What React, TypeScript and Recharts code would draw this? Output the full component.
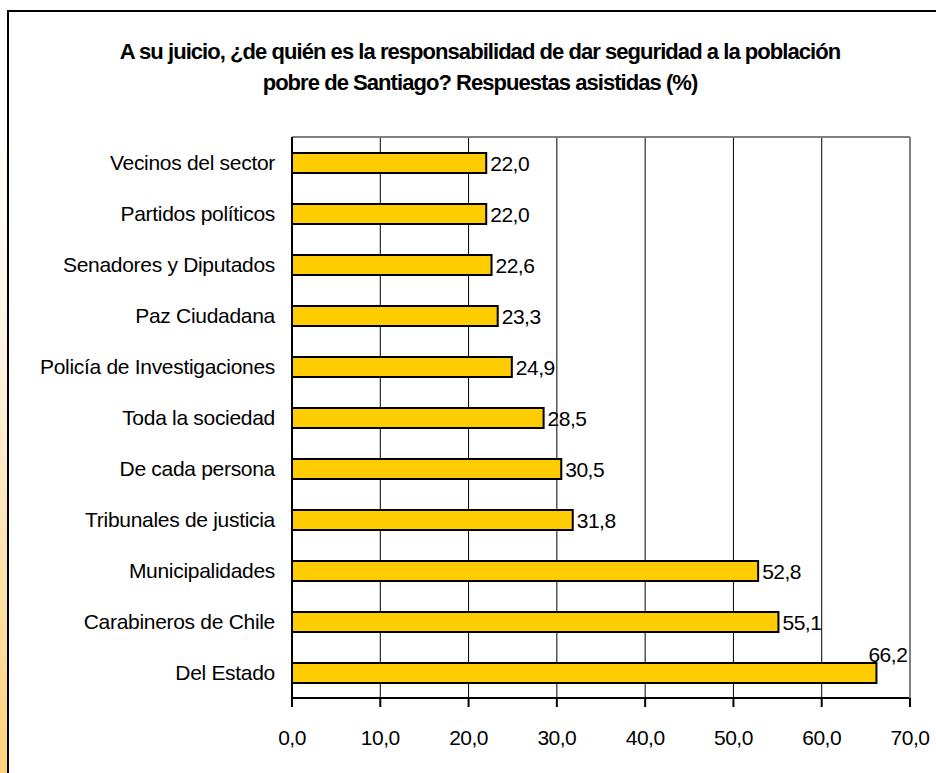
import { BarChart, Bar, XAxis, YAxis, CartesianGrid, LabelList } from 'recharts';

const categories = [
  'Vecinos del sector',
  'Partidos políticos',
  'Senadores  y Diputados',
  'Paz Ciudadana',
  'Policía de Investigaciones',
  'Toda la sociedad',
  'De cada persona',
  'Tribunales de justicia',
  'Municipalidades',
  'Carabineros de Chile',
  'Del Estado',
];
const values = [22.0, 22.0, 22.6, 23.3, 24.9, 28.5, 30.5, 31.8, 52.8, 55.1, 66.2];
const xTicks = [0, 10, 20, 30, 40, 50, 60, 70];
const edgeTicks = [0, 1, 2, 3, 4, 5, 6, 7, 8, 9, 10, 11];

const data = categories.map((name, i) => ({ name, value: values[i] }));

const W = 936;
const H = 773;
const MARGIN = { top: 136, right: 25, bottom: 0, left: 0 };
const PLOT_RIGHT = W - MARGIN.right - 1;
const FONT = '"Liberation Sans", Arial, sans-serif';

const fmt = (v: number) => v.toFixed(1).replace('.', ',');

const ValueLabel = (props: any) => {
  const { x, y, width, height, value } = props;
  const end = Number(x) + Number(width);
  const txt = fmt(Number(value));
  // no room on the right -> put it above the bar end
  if (end + 46 > PLOT_RIGHT) {
    return (
      <text x={end - 8} y={Number(y) - 1} fontSize={21} fontFamily={FONT} fill="#000" letterSpacing={-0.5}>
        {txt}
      </text>
    );
  }
  return (
    <text
      x={end + 4}
      y={Number(y) + Number(height) / 2 + 8}
      fontSize={21}
      fontFamily={FONT}
      fill="#000"
      letterSpacing={-0.5}
    >
      {txt}
    </text>
  );
};

export default function App() {
  return (
    <div
      style={{
        position: 'fixed',
        left: 0,
        top: 0,
        width: W,
        height: H,
        overflow: 'hidden',
        background: '#fff',
      }}
    >
      <div
        style={{
          position: 'absolute',
          left: 0,
          top: 0,
          width: 7,
          height: H,
          background: 'linear-gradient(to bottom, #ffffff 15%, #fff4e4 45%, #ffd27a 100%)',
        }}
      />
      <div
        style={{
          position: 'absolute',
          left: 7,
          top: 10,
          width: W + 20,
          height: H + 20,
          border: '2px solid #000',
          background: '#fff',
        }}
      />
      <div
        style={{
          position: 'absolute',
          left: 0,
          top: 36,
          width: 960,
          textAlign: 'center',
          fontFamily: FONT,
          fontWeight: 'bold',
          fontSize: 22,
          lineHeight: '31px',
          letterSpacing: -0.95,
          color: '#000',
        }}
      >
        A su juicio, ¿de quién es la responsabilidad de dar seguridad a la población
        <br />
        pobre de Santiago? Respuestas asistidas (%)
      </div>
      <div style={{ position: 'absolute', left: 0, top: 0 }}>
        <BarChart width={W} height={H} data={data} layout="vertical" margin={MARGIN}>
          <CartesianGrid horizontal={false} stroke="#000" strokeWidth={1} />
          <XAxis
            type="number"
            dataKey="value"
            domain={[0, 70]}
            ticks={xTicks}
            allowDataOverflow
            height={75}
            tickFormatter={fmt}
            axisLine={{ stroke: '#000', strokeWidth: 2 }}
            tickLine={{ stroke: '#000', strokeWidth: 2 }}
            tickSize={9}
            tickMargin={23}
            tick={{ fontSize: 21, fontFamily: FONT, fill: '#000', letterSpacing: -0.5 }}
          />
          <XAxis
            xAxisId="top"
            orientation="top"
            type="number"
            domain={[0, 70]}
            allowDataOverflow
            height={1}
            tick={false}
            tickLine={false}
            axisLine={{ stroke: '#808080', strokeWidth: 2 }}
          />
          {/* boundary ticks between categories + left axis line */}
          <YAxis
            type="number"
            domain={[0, 11]}
            ticks={edgeTicks}
            allowDataOverflow
            width={1}
            tick={false}
            tickSize={9}
            tickLine={{ stroke: '#000', strokeWidth: 2 }}
            axisLine={{ stroke: '#000', strokeWidth: 2 }}
          />
          <YAxis
            yAxisId="cat"
            type="category"
            dataKey="name"
            width={291}
            interval={0}
            axisLine={false}
            tickLine={false}
            tickSize={0}
            tickMargin={16}
            tick={{ fontSize: 21, fontFamily: FONT, fill: '#000', letterSpacing: -0.3 }}
          />
          <YAxis
            yAxisId="right"
            orientation="right"
            type="number"
            domain={[0, 1]}
            allowDataOverflow
            width={1}
            tick={false}
            tickLine={false}
            axisLine={{ stroke: '#808080', strokeWidth: 2 }}
          />
          <Bar
            yAxisId="cat"
            dataKey="value"
            fill="#FFCC00"
            stroke="#000"
            strokeWidth={2}
            barSize={20}
            isAnimationActive={false}
          >
            <LabelList dataKey="value" content={ValueLabel} />
          </Bar>
        </BarChart>
      </div>
    </div>
  );
}
